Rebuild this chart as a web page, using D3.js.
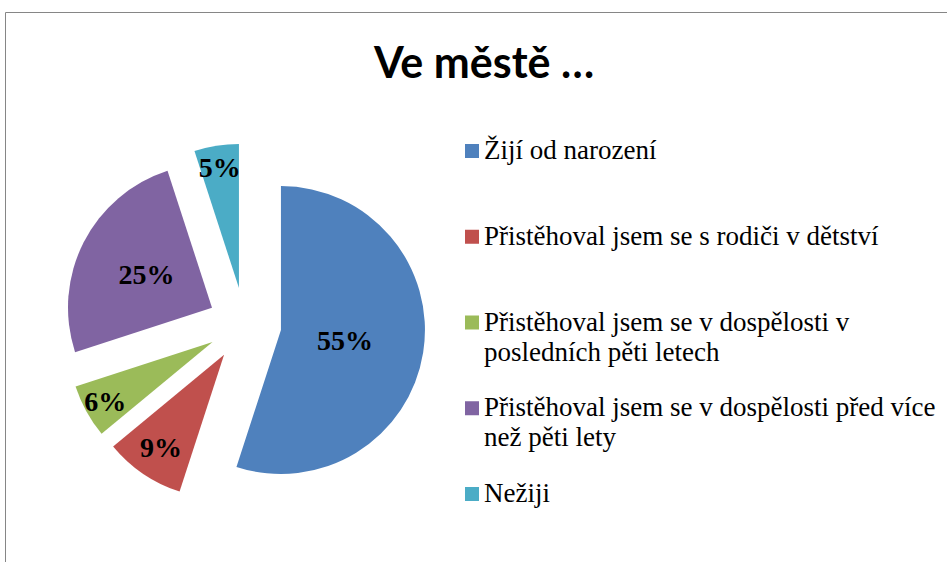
<!DOCTYPE html>
<html>
<head>
<meta charset="utf-8">
<script src="https://cdn.jsdelivr.net/npm/d3@7"></script>
<style>
body{margin:0;background:#fff;}
</style>
</head>
<body>
<div id="chart"></div>
<script>
var w=947;
var h=562;

// data
var categories=["Žijí od narození",
                "Přistěhoval jsem se s rodiči v dětství",
                "Přistěhoval jsem se v dospělosti v posledních pěti letech",
                "Přistěhoval jsem se v dospělosti před více než pěti lety",
                "Nežiji"];
var values=[55,9,6,25,5];
var colors=["#4F81BD","#C0504D","#9BBB59","#8064A2","#4BACC6"];
var title="Ve městě …";

// layout
var cx=244.7, cy=324.3, r=144, explode=36.7;
var labelR=[0.45,0.78,0.85,0.51,0.85];

var svg=d3.select("#chart").append("svg")
          .attr("width",w)
          .attr("height",h);

// frame (only top and left visible)
svg.append("path")
   .attr("d","M5.5,"+h+"V12.5H"+w)
   .attr("fill","none")
   .attr("stroke","#868686")
   .attr("stroke-width",1);

svg.append("text")
   .attr("x",484)
   .attr("y",78)
   .attr("text-anchor","middle")
   .style("font-family","Lato, 'Liberation Sans', sans-serif")
   .style("font-weight","bold")
   .style("font-size","43px")
   .text(title);

var pie=d3.pie().sort(null).value(function(d){return d;});
var arcs=pie(values);
var arc=d3.arc().innerRadius(0).outerRadius(r);

var g=svg.append("g").attr("transform","translate("+cx+","+cy+")");

var slice=g.selectAll("g.slice")
           .data(arcs)
           .enter().append("g")
           .attr("class","slice")
           .attr("transform",function(d){
             var a=(d.startAngle+d.endAngle)/2;
             return "translate("+(Math.sin(a)*explode)+","+(-Math.cos(a)*explode)+")";
           });

slice.append("path")
     .attr("d",arc)
     .attr("fill",function(d,i){return colors[i];});

slice.append("text")
     .attr("x",function(d,i){var a=(d.startAngle+d.endAngle)/2;return Math.sin(a)*r*labelR[i];})
     .attr("y",function(d,i){var a=(d.startAngle+d.endAngle)/2;return -Math.cos(a)*r*labelR[i];})
     .attr("dy","0.35em")
     .attr("text-anchor","middle")
     .style("font-family","'Liberation Serif', 'Times New Roman', serif")
     .style("font-weight","bold")
     .style("font-size","28px")
     .text(function(d){return d.data+"%";});

// legend
var legend=svg.append("g");
var step=85.75, firstBase=159, lineH=30, maxW=458;

categories.forEach(function(name,i){
  var base=firstBase+step*i;
  legend.append("rect")
        .attr("x",465)
        .attr("y",base-15)
        .attr("width",14)
        .attr("height",14)
        .attr("fill",colors[i]);
  var t=legend.append("text")
        .attr("x",484)
        .attr("y",base)
        .style("font-family","'Liberation Serif', 'Times New Roman', serif")
        .style("font-size","27px")
        .style("fill","#000");
  // wrap words
  var words=name.split(" ");
  var line=[];
  var ln=0;
  var tspan=t.append("tspan").attr("x",484).attr("y",base);
  words.forEach(function(word){
    line.push(word);
    tspan.text(line.join(" "));
    if(tspan.node().getComputedTextLength()>maxW && line.length>1){
      line.pop();
      tspan.text(line.join(" "));
      line=[word];
      ln++;
      tspan=t.append("tspan").attr("x",484).attr("y",base+ln*lineH).text(word);
    }
  });
});
</script>
</body>
</html>
